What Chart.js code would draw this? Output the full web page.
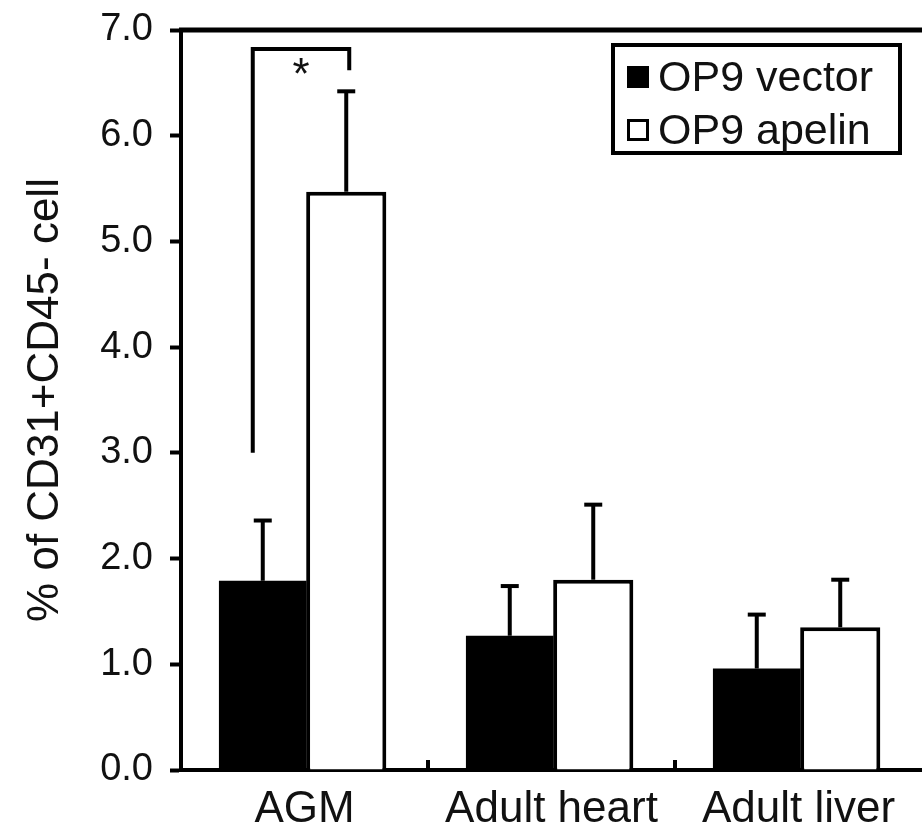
<!DOCTYPE html>
<html>
<head>
<meta charset="utf-8">
<script src="https://cdn.jsdelivr.net/npm/chart.js@4.4.0/dist/chart.umd.min.js"></script>
<style>
html, body { margin: 0; padding: 0; background: #fff; overflow: hidden; }
</style>
</head>
<body>
<canvas id="chart" width="922" height="835"></canvas>
<script>
const categories = ['AGM', 'Adult heart', 'Adult liver'];
const seriesNames = ['OP9 vector', 'OP9 apelin'];
const vectorValues = [1.79, 1.27, 0.96];
const vectorErrors = [0.57, 0.47, 0.51];
const apelinValues = [5.47, 1.80, 1.35];
const apelinErrors = [0.95, 0.71, 0.45];
const yTicks = [0, 1, 2, 3, 4, 5, 6, 7];
// AGM significance bracket: foot on vector side, top, foot on apelin side
const bracketLevels = [3.0, 6.82, 6.62];

const FONT = '"Liberation Sans", Arial, Helvetica, sans-serif';
const INK = '#111';

// one-sided error bars on top of each bar
const errorBars = {
    id: 'errorBars',
    afterDatasetsDraw(chart) {
        const ctx = chart.ctx;
        const y = chart.scales.y;
        chart.data.datasets.forEach((ds, i) => {
            chart.getDatasetMeta(i).data.forEach((bar, j) => {
                const top = y.getPixelForValue(ds.data[j] + ds.errors[j]);
                const x = bar.x;
                ctx.save();
                ctx.strokeStyle = '#000';
                ctx.lineWidth = 4;
                ctx.beginPath();
                ctx.moveTo(x, bar.y);
                ctx.lineTo(x, top);
                ctx.stroke();
                ctx.beginPath();
                ctx.moveTo(x - 9, top);
                ctx.lineTo(x + 9, top);
                ctx.stroke();
                ctx.restore();
            });
        });
    }
};

// top frame line, inward category ticks, bracket + star, boxed legend
const extras = {
    id: 'extras',
    afterDraw(chart) {
        const ctx = chart.ctx;
        const area = chart.chartArea;
        const x = chart.scales.x;
        const y = chart.scales.y;
        ctx.save();
        ctx.strokeStyle = '#000';
        ctx.lineWidth = 5;
        ctx.beginPath();
        ctx.moveTo(area.left - 2, area.top);
        ctx.lineTo(area.right, area.top);
        ctx.stroke();

        ctx.lineWidth = 4;
        for (let i = 0; i < categories.length - 1; i++) {
            const tx = (x.getPixelForValue(i) + x.getPixelForValue(i + 1)) / 2;
            ctx.beginPath();
            ctx.moveTo(tx, area.bottom);
            ctx.lineTo(tx, area.bottom - 10);
            ctx.stroke();
        }

        const x0 = chart.getDatasetMeta(0).data[0].x - 10;
        const x1 = chart.getDatasetMeta(1).data[0].x + 3;
        ctx.lineJoin = 'miter';
        ctx.beginPath();
        ctx.moveTo(x0, y.getPixelForValue(bracketLevels[0]));
        ctx.lineTo(x0, y.getPixelForValue(bracketLevels[1]));
        ctx.lineTo(x1, y.getPixelForValue(bracketLevels[1]));
        ctx.lineTo(x1, y.getPixelForValue(bracketLevels[2]));
        ctx.stroke();

        ctx.fillStyle = INK;
        ctx.font = '44px ' + FONT;
        ctx.textAlign = 'center';
        ctx.textBaseline = 'alphabetic';
        const m = ctx.measureText('*');
        const cy = y.getPixelForValue(bracketLevels[1]) + 17;
        ctx.fillText('*', (x0 + x1) / 2, cy + (m.actualBoundingBoxAscent - m.actualBoundingBoxDescent) / 2);

        // legend
        const bx = area.right - 309;
        const by = area.top + 15;
        ctx.lineWidth = 4;
        ctx.strokeRect(bx, by, 287, 108);
        ctx.font = '43px ' + FONT;
        ctx.textAlign = 'left';
        ctx.textBaseline = 'middle';
        chart.data.datasets.forEach((ds, i) => {
            const rowY = by + 32 + i * 53;
            if (ds.backgroundColor === '#000') {
                ctx.fillStyle = '#000';
                ctx.fillRect(bx + 14, rowY - 11, 22, 22);
            } else {
                ctx.lineWidth = 3;
                ctx.strokeRect(bx + 15.5, rowY - 9.5, 19, 19);
            }
            ctx.fillStyle = INK;
            ctx.fillText(ds.label, bx + 45, rowY + 2);
        });
        ctx.restore();
    }
};

new Chart(document.getElementById('chart'), {
    type: 'bar',
    data: {
        labels: categories,
        datasets: [{
            label: seriesNames[0],
            data: vectorValues,
            errors: vectorErrors,
            backgroundColor: '#000',
            borderWidth: 0,
            barPercentage: 1.05,
            categoryPercentage: 0.676
        }, {
            label: seriesNames[1],
            data: apelinValues,
            errors: apelinErrors,
            backgroundColor: '#fff',
            borderColor: '#000',
            borderWidth: 4,
            barPercentage: 0.96,
            categoryPercentage: 0.676
        }]
    },
    options: {
        responsive: false,
        animation: false,
        layout: { padding: { left: 19, top: 30, right: 0, bottom: 4 } },
        plugins: { legend: { display: false }, tooltip: { enabled: false } },
        scales: {
            x: {
                offset: true,
                z: 1,
                grid: { display: false },
                border: { display: true, color: '#000', width: 4 },
                ticks: { font: { family: FONT, size: 44 }, color: INK, padding: 5 },
                afterFit: (s) => { s.height = 61; }
            },
            y: {
                min: 0,
                max: 7,
                z: 1,
                afterBuildTicks: (s) => { s.ticks = yTicks.map(v => ({ value: v })); },
                ticks: {
                    font: { family: FONT, size: 38 },
                    color: INK,
                    padding: 17,
                    callback: (v) => Number(v).toFixed(1)
                },
                grid: { drawOnChartArea: false, drawTicks: true, tickLength: 11, tickWidth: 4, tickColor: '#000' },
                border: { display: true, color: '#000', width: 4 },
                title: {
                    display: true,
                    text: '% of CD31+CD45- cell',
                    font: { family: FONT, size: 44 },
                    color: INK,
                    padding: 0
                },
                afterFit: (s) => {
                    s.width = 162;
                    s.paddingTop = 0;
                    s.paddingBottom = 0;
                }
            }
        }
    },
    plugins: [errorBars, extras]
});
</script>
</body>
</html>
